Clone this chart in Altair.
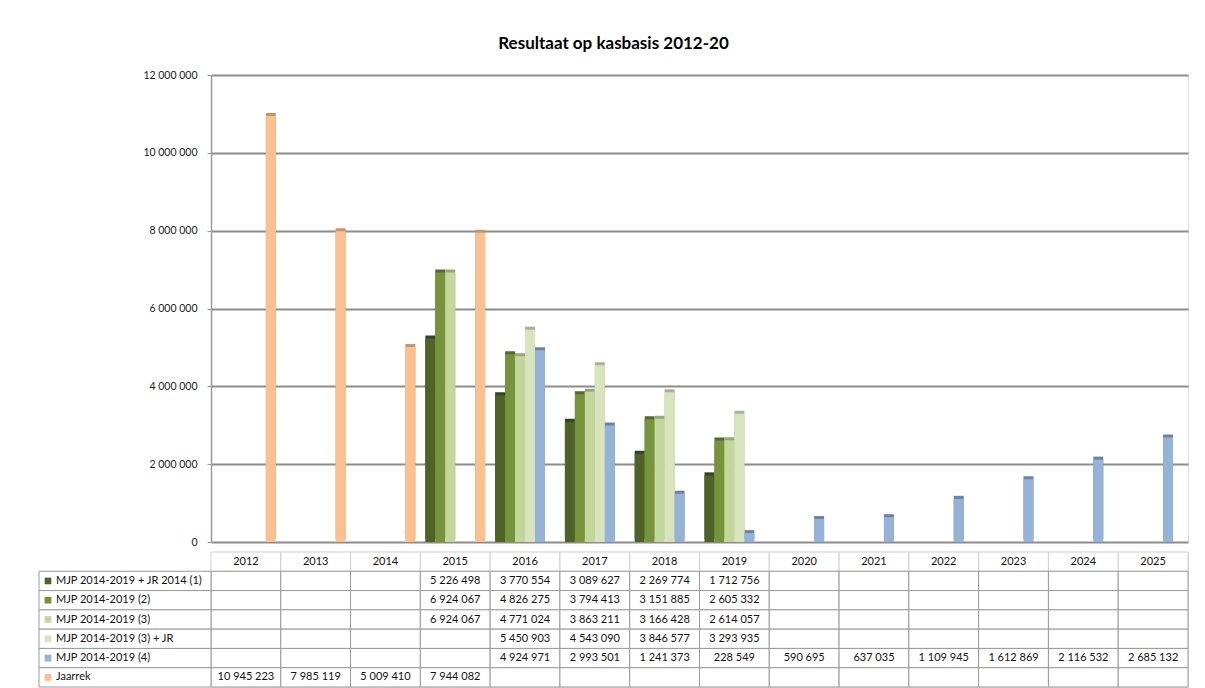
import altair as alt
import pandas as pd

years = [str(y) for y in range(2012, 2026)]
series = [
    "MJP 2014-2019 + JR 2014 (1)",
    "MJP 2014-2019 (2)",
    "MJP 2014-2019 (3)",
    "MJP 2014-2019 (3) + JR",
    "MJP 2014-2019 (4)",
    "Jaarrek",
]
s1 = [None, None, None, 5226498, 3770554, 3089627, 2269774, 1712756, None, None, None, None, None, None]
s2 = [None, None, None, 6924067, 4826275, 3794413, 3151885, 2605332, None, None, None, None, None, None]
s3 = [None, None, None, 6924067, 4771024, 3863211, 3166428, 2614057, None, None, None, None, None, None]
s4 = [None, None, None, None, 5450903, 4543090, 3846577, 3293935, None, None, None, None, None, None]
s5 = [None, None, None, None, 4924971, 2993501, 1241373, 228549, 590695, 637035, 1109945, 1612869, 2116532, 2685132]
s6 = [10945223, 7985119, 5009410, 7944082, None, None, None, None, None, None, None, None, None, None]
values = [s1, s2, s3, s4, s5, s6]

front_colors = ["#4F6228", "#77933C", "#C3D69B", "#D7E4BD", "#95B3D7", "#FAC090"]
side_colors = ["#36441b", "#55692a", "#97a877", "#a8b492", "#6883a6", "#c99466"]

rows = []
for name, vals in zip(series, values):
    for y, v in zip(years, vals):
        rows.append({"year": y, "series": name, "value": v,
                     "label": "" if v is None else f"{v:,}".replace(",", " ")})
df = pd.DataFrame(rows)
bars_df = df.dropna(subset=["value"])

FONT = "Lato"
W = 977

xscale = alt.Scale(domain=years, paddingInner=0.143, paddingOuter=0.0715)
offscale = alt.Scale(domain=series, paddingInner=0, paddingOuter=0)
yscale = alt.Scale(domain=[0, 12000000])

base = alt.Chart(bars_df).encode(
    x=alt.X("year:N", scale=xscale, axis=None),
    xOffset=alt.XOffset("series:N", scale=offscale),
    y=alt.Y("value:Q", scale=yscale, title=None,
            axis=alt.Axis(values=[0, 2000000, 4000000, 6000000, 8000000, 10000000, 12000000],
                          format=",d", grid=True, gridColor="#8c8c8c", gridWidth=2,
                          domainColor="#9a9a9a", domainWidth=1.5, tickColor="#9a9a9a",
                          tickSize=4, labelPadding=10, labelFont=FONT, labelFontSize=10.5,
                          labelColor="#1a1a1a")),
)
side = base.mark_bar(xOffset=3, yOffset=-3).encode(
    color=alt.Color("series:N", scale=alt.Scale(domain=series, range=side_colors), legend=None)
)
front = base.mark_bar().encode(
    color=alt.Color("series:N", scale=alt.Scale(domain=series, range=front_colors), legend=None)
)
bars = alt.layer(side, front).resolve_scale(color="independent").properties(width=W, height=467)

row_domain = [" "] + series
tx = alt.X("year:N", scale=alt.Scale(domain=years, paddingInner=0, paddingOuter=0), axis=None)
ty = alt.Y("series:N", scale=alt.Scale(domain=row_domain, paddingInner=0, paddingOuter=0), axis=None)

header_df = pd.DataFrame({"year": years, "series": [" "] * len(years), "label": years})

header_cells = alt.Chart(header_df).mark_rect(fill="white", stroke="#cfcfcf", strokeWidth=1).encode(x=tx, y=ty)
header_text = alt.Chart(header_df).mark_text(font=FONT, fontSize=11, color="#111111").encode(
    x=tx, y=ty, text="label:N")
cells = alt.Chart(df).mark_rect(fill="white", stroke="#9a9a9a", strokeWidth=1).encode(x=tx, y=ty)
cell_text = alt.Chart(df).mark_text(font=FONT, fontSize=11, color="#111111").encode(
    x=tx, y=ty, text="label:N")

leg_df = pd.DataFrame({"series": series})
leg_cells = alt.Chart(leg_df).mark_rect(fill="white", stroke="#9a9a9a", strokeWidth=1).encode(
    x=alt.value(-172), x2=alt.value(0), y=ty)
leg_sq = alt.Chart(leg_df).mark_square(size=45, opacity=1).encode(
    x=alt.value(-163), y=ty,
    color=alt.Color("series:N", scale=alt.Scale(domain=series, range=front_colors), legend=None))
leg_text = alt.Chart(leg_df).mark_text(font=FONT, fontSize=11, color="#111111", align="left").encode(
    x=alt.value(-155), y=ty, text="series:N")

table = alt.layer(header_cells, cells, header_text, cell_text, leg_cells, leg_sq, leg_text).properties(
    width=W, height=135)

chart = alt.vconcat(bars, table, spacing=3).resolve_scale(
    x="independent", y="independent", color="independent"
).properties(
    title=alt.TitleParams("Resultaat op kasbasis 2012-20", font=FONT, fontSize=17, fontWeight="bold",
                          color="#000000", anchor="middle", offset=17),
    padding={"top": 26, "left": 30, "right": 5, "bottom": 2},
).configure_view(stroke=None).configure(
    locale={"number": {"decimal": ",", "thousands": " ", "grouping": [3], "currency": ["", " €"]}}
)

chart.save("out.html", embed_options={"renderer": "svg", "actions": False})
